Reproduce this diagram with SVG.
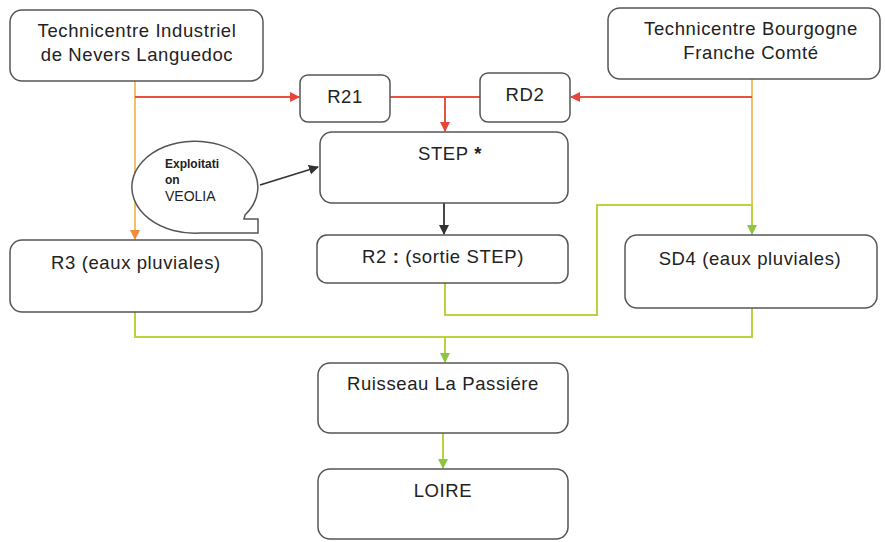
<svg xmlns="http://www.w3.org/2000/svg" width="885" height="542" viewBox="0 0 885 542">
<style>
.box{fill:#fff;stroke:#555;stroke-width:1.5}
.t{font-family:"Liberation Sans",Arial,sans-serif;font-size:18.5px;fill:#222;text-anchor:middle;letter-spacing:0.6px}
.s{font-family:"Liberation Sans",Arial,sans-serif;fill:#222}
.red{fill:none;stroke:#e8503f;stroke-width:2}
.org{fill:none;stroke:#f2c068;stroke-width:2}
.grn{fill:none;stroke:#b8d33c;stroke-width:2}
.blk{fill:none;stroke:#333;stroke-width:1.8}
</style>
<defs>
<marker id="aR" markerWidth="10" markerHeight="10" refX="9" refY="5" orient="auto" markerUnits="userSpaceOnUse"><path d="M0,0 L10,5 L0,10 Z" fill="#e8453a"/></marker>
<marker id="aO" markerWidth="10" markerHeight="10" refX="9" refY="5" orient="auto" markerUnits="userSpaceOnUse"><path d="M0,0 L10,5 L0,10 Z" fill="#f08a3c"/></marker>
<marker id="aG" markerWidth="10" markerHeight="10" refX="9" refY="5" orient="auto" markerUnits="userSpaceOnUse"><path d="M0,0 L10,5 L0,10 Z" fill="#8cc63f"/></marker>
<marker id="aK" markerWidth="10" markerHeight="10" refX="9" refY="5" orient="auto" markerUnits="userSpaceOnUse"><path d="M0,0 L10,5 L0,10 Z" fill="#333"/></marker>
</defs>
<rect width="885" height="542" fill="#fff"/>
<g id="connectors">
<path class="org" d="M135,81 V239" marker-end="url(#aO)"/>
<path class="org" d="M752,79 V206"/>
<path class="red" d="M135,97 H299" marker-end="url(#aR)"/>
<path class="red" d="M390,97 H480"/>
<path class="red" d="M445,97 V131" marker-end="url(#aR)"/>
<path class="red" d="M752,97 H571" marker-end="url(#aR)"/>
<path class="blk" d="M260,185 L318,167" marker-end="url(#aK)"/>
<path class="blk" d="M444,203 V234" marker-end="url(#aK)"/>
<path class="grn" d="M445,283 V315 H597 V205 H752 V234" marker-end="url(#aG)"/>
<path class="grn" d="M135,312 V337 H752 V308"/>
<path class="grn" d="M445,337 V362" marker-end="url(#aG)"/>
<path class="grn" d="M443,433 V468" marker-end="url(#aG)"/>
</g>
<g id="n1"><rect class="box" x="10" y="10" width="253" height="71" rx="12"/><text class="t" x="137" y="37">Technicentre Industriel</text><text class="t" x="137" y="61">de Nevers Languedoc</text></g>
<g id="n2"><rect class="box" x="608" y="8" width="272" height="71" rx="12"/><text class="t" x="751" y="35">Technicentre Bourgogne</text><text class="t" x="751" y="59">Franche Comté</text></g>
<g id="r21"><rect class="box" x="300" y="75" width="90" height="47" rx="8"/><text class="t" x="345" y="103">R21</text></g>
<g id="rd2"><rect class="box" x="480" y="73" width="90" height="49" rx="8"/><text class="t" x="525" y="101">RD2</text></g>
<g id="step"><rect class="box" x="320" y="132" width="248" height="71" rx="12"/><text class="t" x="450" y="160">STEP <tspan font-weight="bold">*</tspan></text></g>
<g id="veolia"><path class="box" d="M245,215 A63,46 0 1 0 200,233 L258,233 L258,219 L244,219 Z"/>
<text class="s" font-size="12" font-weight="bold" x="165" y="168">Exploitati</text>
<text class="s" font-size="12" font-weight="bold" x="165" y="184">on</text>
<text class="s" font-size="14" x="165" y="201">VEOLIA</text></g>
<g id="r3"><rect class="box" x="10" y="240" width="252" height="72" rx="12"/><text class="t" x="136" y="269">R3 (eaux pluviales)</text></g>
<g id="r2"><rect class="box" x="317" y="235" width="251" height="48" rx="10"/><text class="t" x="443" y="263">R2 <tspan font-weight="bold">:</tspan> (sortie STEP)</text></g>
<g id="sd4"><rect class="box" x="625" y="235" width="252" height="73" rx="12"/><text class="t" x="750" y="265">SD4 (eaux pluviales)</text></g>
<g id="ruisseau"><rect class="box" x="318" y="363" width="250" height="70" rx="12"/><text class="t" x="443" y="390">Ruisseau La Passiére</text></g>
<g id="loire"><rect class="box" x="318" y="469" width="250" height="70" rx="12"/><text class="t" x="443" y="497">LOIRE</text></g>
</svg>
